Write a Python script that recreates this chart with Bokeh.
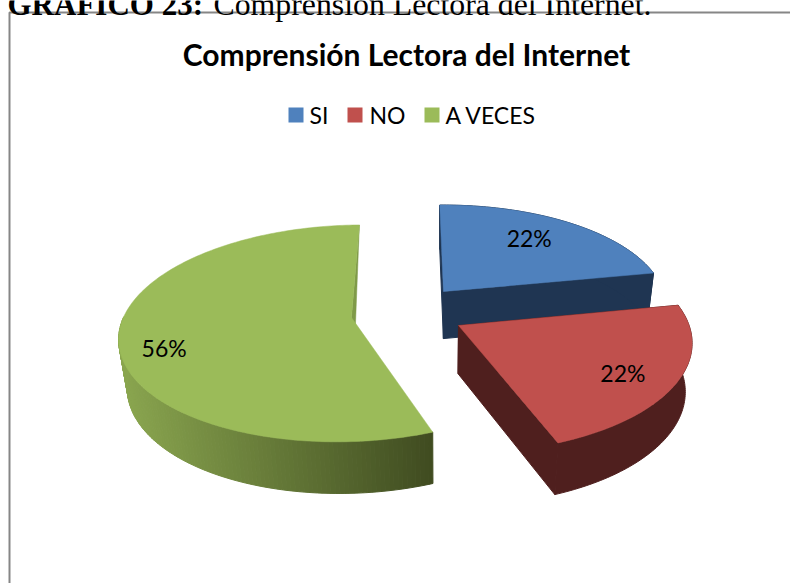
import numpy as np
from bokeh.plotting import figure
from bokeh.models import Range1d
from bokeh.core.properties import value
from bokeh.embed import file_html
from bokeh.resources import INLINE

# data
categories = ["SI", "NO", "A VECES"]
values = [22.2, 22.2, 55.6]
chart_title = "Comprensión Lectora del Internet"
heading_bold = "GRÁFICO 23:"
heading_regular = "Comprensión Lectora del Internet."

# styles / layout
top_colors = ["#4F81BD", "#C0504D", "#9BBB59"]
wall_colors = ["#1F3552", "#4F1F1E", None]
green_wall_left = np.array([0x8A, 0xA6, 0x4F])
green_wall_right = np.array([0x3F, 0x4B, 0x20])
side_sliver = "#7F9A48"
# per slice explosion offsets in the unit-circle plane
offset_x = [3.1 / 229, 17.9 / 229, -89.4 / 229]
offset_y = [0.2825, -0.0467, 0.028]
# label position: clock angle (deg) and radius fraction
label_angle = [36.0, 121.5, 250.5]
label_frac = [0.72, 0.78, 0.82]
XC, YC, R, RY, K = 440.0, 320.0, 229.0, 107.0, 0.147
START = -1.0
legend_box_x = [288, 347, 424]
legend_text_x = [309, 369, 445]


def project(u, v, i):
    q = np.asarray(v) + offset_y[i]
    w = 1 + K * q
    return XC + R * (np.asarray(u) + offset_x[i]) / w, YC - RY * q / w


def lower(x, y):
    return XC + 0.973 * (x - XC), y + 48 + 0.03 * (y - YC)


def ring(a0, a1, i):
    t = np.radians(np.linspace(a0, a1, int(abs(a1 - a0)) + 2))
    return project(np.sin(t), np.cos(t), i)


p = figure(width=790, height=583, x_range=Range1d(0, 790), y_range=Range1d(583, 0),
           x_axis_location=None, y_axis_location=None, toolbar_location=None,
           output_backend="svg", min_border=0, outline_line_color=None,
           margin=(0, 0, 0, 0))
p.grid.visible = False
p.background_fill_color = "white"
p.border_fill_color = "white"

# frame of the chart
p.line([790, 9, 9], [12, 12, 583], line_color="#868686", line_width=2)

# slices
angle = START
for i, val in enumerate(values):
    sweep = val * 3.6
    a0, a1 = angle, angle + sweep
    angle = a1
    x, y = ring(a0, a1, i)
    ax, ay = project(0.0, 0.0, i)
    lx, ly = lower(x, y)
    bax, bay = lower(ax, ay)

    if wall_colors[i] is not None:
        c = wall_colors[i]
        xs = [[ax, x[0], lx[0], bax], [ax, x[-1], lx[-1], bax],
              list(np.r_[x, lx[::-1]])]
        ys = [[ay, y[0], ly[0], bay], [ay, y[-1], ly[-1], bay],
              list(np.r_[y, ly[::-1]])]
        p.patches(xs, ys, fill_color=c, line_color=c, line_width=1)
    else:
        # cut face beside the gap
        p.patch([ax, x[-1], bax], [ay, y[-1], bay],
                fill_color=side_sliver, line_color=side_sliver, line_width=0.5)
        # outer wall with left-to-right shading (front half only)
        xs, ys, cs = [], [], []
        x0, x1 = x.min(), x[0]
        for j in range(len(x) - 1):
            if y[j] < ay:
                continue
            f = np.clip((0.5 * (x[j] + x[j + 1]) - x0) / (x1 - x0), 0, 1)
            col = green_wall_left + (green_wall_right - green_wall_left) * f
            cs.append("#%02x%02x%02x" % tuple(int(round(k)) for k in col))
            xs.append([x[j], x[j + 1], lx[j + 1], lx[j]])
            ys.append([y[j], y[j + 1], ly[j + 1], ly[j]])
        p.patches(xs, ys, fill_color=cs, line_color=cs, line_width=1)

    p.patch(list(np.r_[ax, x]), list(np.r_[ay, y]), fill_color=top_colors[i],
            line_color=top_colors[i], line_width=0.5)

# percent labels
for i, val in enumerate(values):
    t = np.radians(label_angle[i])
    lx, ly = project(label_frac[i] * np.sin(t), label_frac[i] * np.cos(t), i)
    p.text([float(lx)], [float(ly)], text=[f"{val:.0f}%"], text_font=value("Lato"),
           text_font_size="23px", text_color="black", text_align="center",
           text_baseline="middle")

# chart title
p.text([406], [53], text=[chart_title], text_font=value("Lato"), text_font_size="30px",
       text_font_style="bold", text_color="black", text_align="center", text_baseline="middle")

# legend
p.rect([b + 7.5 for b in legend_box_x], [114.5] * 3,
       width=15, height=15, fill_color=top_colors, line_color=None)
p.text(legend_text_x, [114.5] * 3, text=categories, text_font=value("Lato"),
       text_font_size="23px", text_color="black", text_align="left", text_baseline="middle")

# document heading
p.text([7], [4], text=[heading_bold], text_font=value("Liberation Serif"), text_font_size="31px",
       text_font_style="bold", text_color="black", text_align="left", text_baseline="alphabetic")
p.text([213], [4], text=[heading_regular], text_font=value("Liberation Serif"), text_font_size="31.8px",
       text_color="black", text_align="left", text_baseline="alphabetic")

open("out.html", "w").write(file_html(p, INLINE))
